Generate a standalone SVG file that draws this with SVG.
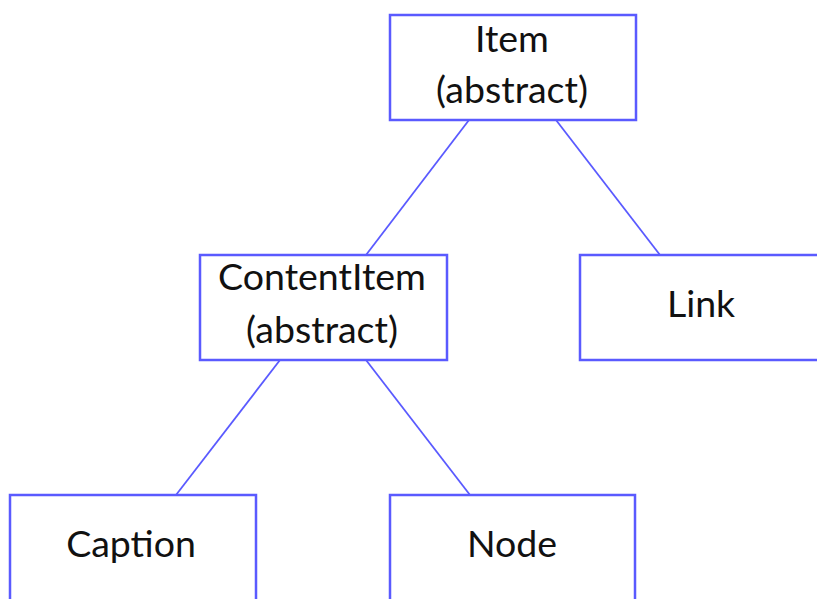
<svg xmlns="http://www.w3.org/2000/svg" width="817" height="599" viewBox="0 0 817 599">
  <style>
    .box { fill: #ffffff; stroke: #5a5aff; stroke-width: 2.5; }
    .edge { stroke: #5a5aff; stroke-width: 1.8; fill: none; }
    .label { font-family: Lato, "Open Sans", sans-serif; font-size: 37.5px; fill: #111111; text-anchor: middle; }
  </style>
  <rect width="817" height="599" fill="#ffffff"/>
  <g id="connectors">
    <line class="edge" x1="469" y1="120" x2="366" y2="255"/>
    <line class="edge" x1="556" y1="120" x2="660" y2="255"/>
    <line class="edge" x1="280" y1="360" x2="176" y2="495"/>
    <line class="edge" x1="366" y1="360" x2="470" y2="495"/>
  </g>
  <g id="item">
    <rect class="box" x="390" y="15" width="246" height="105"/>
    <text class="label" x="512" y="52">Item</text>
    <text class="label" x="512" y="103">(abstract)</text>
  </g>
  <g id="contentitem">
    <rect class="box" x="200" y="255" width="247" height="105"/>
    <text class="label" x="322" y="290">ContentItem</text>
    <text class="label" x="322" y="343">(abstract)</text>
  </g>
  <g id="link">
    <rect class="box" x="580" y="255" width="246" height="105"/>
    <text class="label" x="701" y="317">Link</text>
  </g>
  <g id="caption">
    <rect class="box" x="10" y="495" width="246" height="110"/>
    <text class="label" x="131" y="557">Caption</text>
  </g>
  <g id="node">
    <rect class="box" x="390" y="495" width="245" height="110"/>
    <text class="label" x="512" y="557">Node</text>
  </g>
</svg>
